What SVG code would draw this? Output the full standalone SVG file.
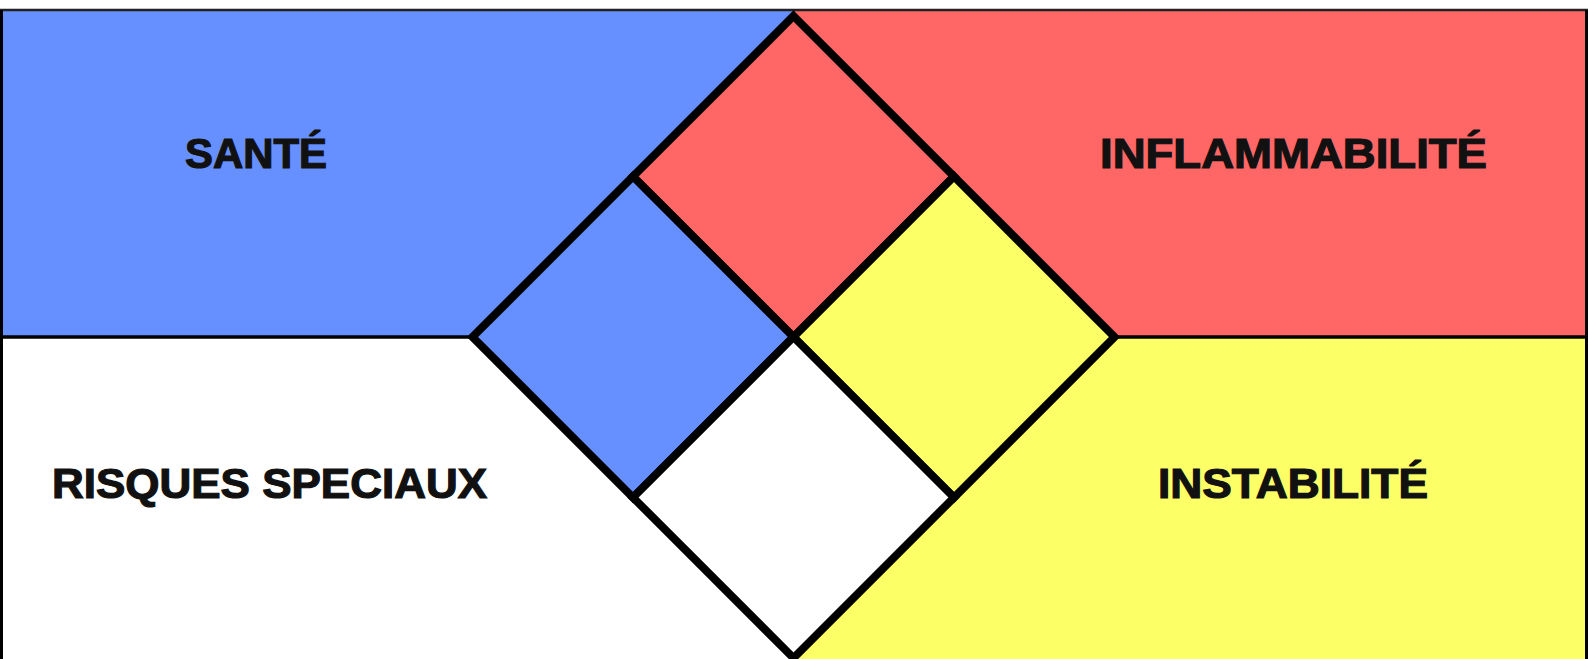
<svg xmlns="http://www.w3.org/2000/svg" width="1588" height="659" viewBox="0 0 1588 659">
<style>
.lbl{font-family:"Liberation Sans",Arial,sans-serif;font-weight:bold;font-size:42px;fill:#111;stroke:#111;stroke-width:1.2;text-anchor:middle}
.d{stroke:#000;stroke-width:8;stroke-linejoin:miter}
.blue{fill:#668fff}.red{fill:#ff6666}.yel{fill:#fdff66}.wht{fill:#fff}
</style>
<rect x="0" y="0" width="1588" height="659" fill="#fff"/>
<g id="sante-bg"><rect class="blue" x="0" y="10" width="794" height="327"/></g>
<g id="inflammabilite-bg"><rect class="red" x="794" y="10" width="794" height="327"/></g>
<g id="risques-bg"><rect class="wht" x="0" y="337" width="794" height="322"/></g>
<g id="instabilite-bg"><rect class="yel" x="794" y="337" width="794" height="322"/></g>
<g id="frame" fill="none">
<line x1="0" y1="10" x2="1588" y2="10" stroke="#222" stroke-width="2.5"/>
<line x1="1.5" y1="10" x2="1.5" y2="659" stroke="#000" stroke-width="3"/>
<line x1="1586.5" y1="10" x2="1586.5" y2="659" stroke="#000" stroke-width="3"/>
<line x1="0" y1="337" x2="1588" y2="337" stroke="#000" stroke-width="3.5"/>
</g>
<g id="diamond">
<polygon id="d-top" class="d red" points="793.5,16 954,176.5 793.5,337 633,176.5"/>
<polygon id="d-left" class="d blue" points="633,176.5 793.5,337 633,497.5 472.5,337"/>
<polygon id="d-right" class="d yel" points="954,176.5 1114.5,337 954,497.5 793.5,337"/>
<polygon id="d-bottom" class="d wht" points="793.5,337 954,497.5 793.5,658 633,497.5"/>
</g>
<g id="labels">
<text id="t-sante" class="lbl" x="256" y="168" textLength="142" lengthAdjust="spacingAndGlyphs">SANTÉ</text>
<text id="t-inflam" class="lbl" x="1293.5" y="168" textLength="387" lengthAdjust="spacingAndGlyphs">INFLAMMABILITÉ</text>
<text id="t-risques" class="lbl" x="269.5" y="498" textLength="435" lengthAdjust="spacingAndGlyphs">RISQUES SPECIAUX</text>
<text id="t-instab" class="lbl" x="1293" y="498" textLength="270" lengthAdjust="spacingAndGlyphs">INSTABILITÉ</text>
</g>
</svg>
